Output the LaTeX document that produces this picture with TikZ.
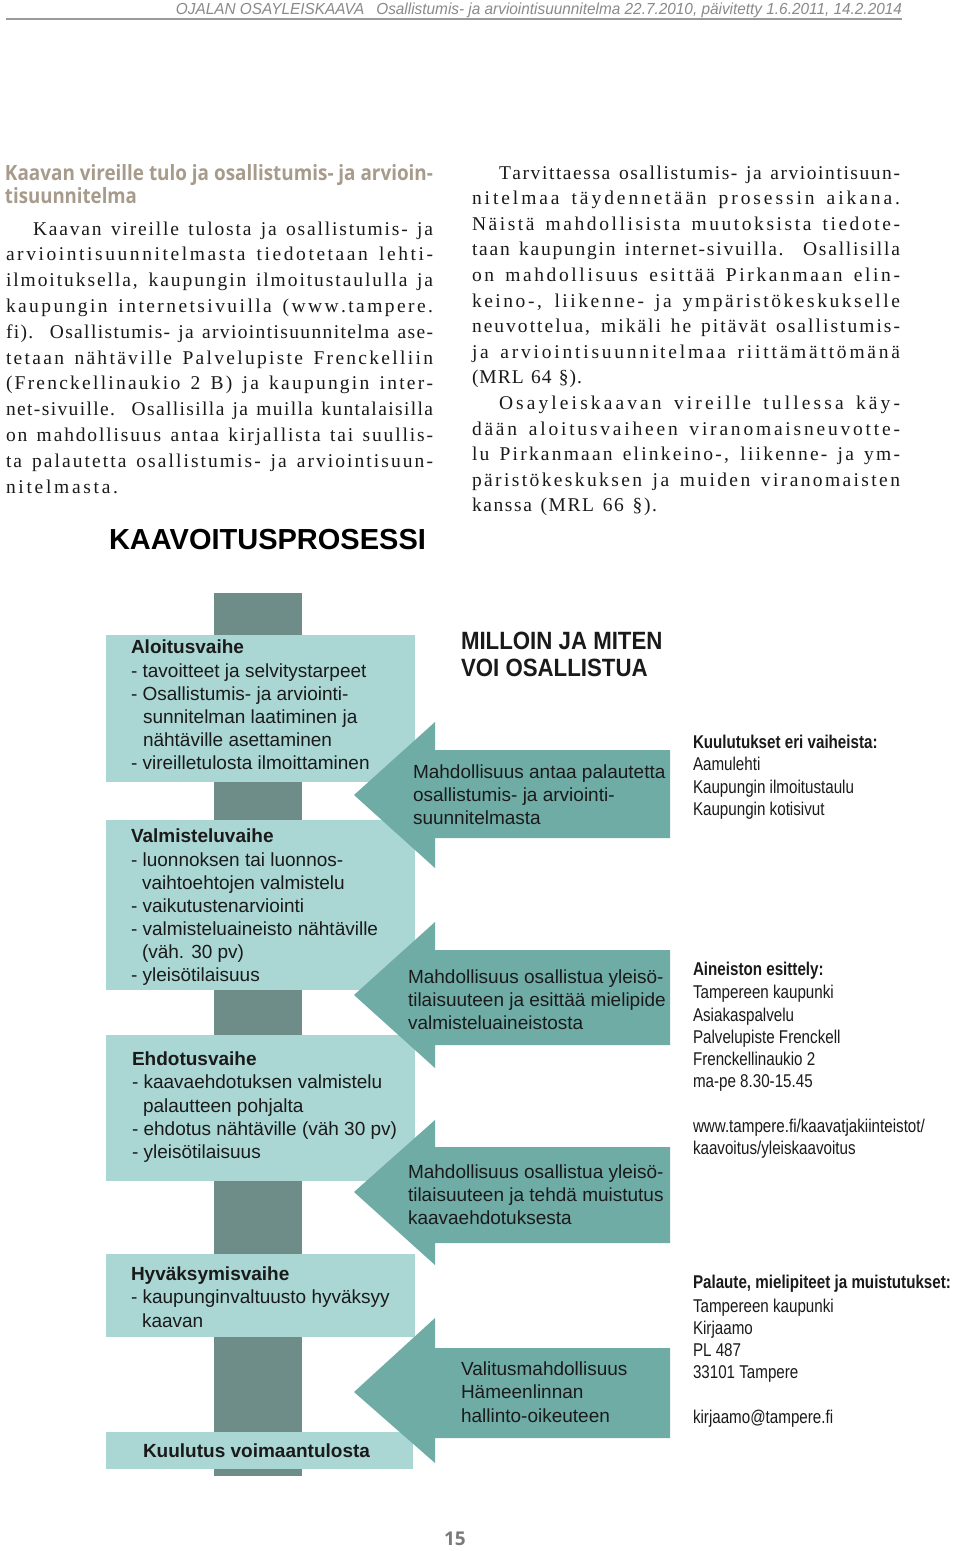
\documentclass[tikz,border=0pt]{standalone}
\usepackage{fontspec}
\setmainfont{Liberation Serif}
\newfontfamily\bodyfont{Liberation Serif}
\newfontfamily\arial{Liberation Sans}
\newfontfamily\arialnarrow[FakeStretch=0.82]{Liberation Sans}
\newfontfamily\hdrfont[FakeStretch=0.96]{Liberation Sans}
\newfontfamily\milfont[FakeStretch=0.89]{Liberation Sans}
\newfontfamily\opensans{Open Sans}
\definecolor{barc}{HTML}{6E8D89}
\definecolor{boxc}{HTML}{AAD6D4}
\definecolor{arrc}{HTML}{70ACA6}
\definecolor{tanc}{HTML}{A79B8B}
\definecolor{hdrc}{HTML}{8A8A8A}
\definecolor{rulec}{HTML}{9A9A9A}
\definecolor{ink}{HTML}{1A1A1A}
\definecolor{pagec}{HTML}{7A7A7A}
% letter spacing glue for body text
\makeatletter
\@tempcnta=`a \loop \XeTeXcharclass\@tempcnta=7 \ifnum\@tempcnta<`z \advance\@tempcnta 1 \repeat
\@tempcnta=`A \loop \XeTeXcharclass\@tempcnta=7 \ifnum\@tempcnta<`Z \advance\@tempcnta 1 \repeat
\@tempcnta=`0 \loop \XeTeXcharclass\@tempcnta=7 \ifnum\@tempcnta<`9 \advance\@tempcnta 1 \repeat
\makeatother
\XeTeXcharclass`ä=7 \XeTeXcharclass`ö=7 \XeTeXcharclass`Ä=7 \XeTeXcharclass`Ö=7
\XeTeXcharclass`.=7 \XeTeXcharclass`,=7 \XeTeXcharclass`-=7 \XeTeXcharclass`(=7
\XeTeXcharclass`)=7 \XeTeXcharclass`§=7
\XeTeXinterchartoks 7 7 = {\hskip 0pt plus 1pt\relax}
\newcommand\bodytext{\bodyfont\fontsize{19.5}{25}\selectfont\XeTeXinterchartokenstate=1 }
\newcommand\dtext{\arial\fontsize{19}{23}\selectfont}
\newcommand\dtextb{\arial\bfseries\fontsize{19}{23}\selectfont}
\newcommand\rtext{\arialnarrow\fontsize{18.5}{22}\selectfont}
\newcommand\rtextb{\arialnarrow\bfseries\fontsize{18.5}{22}\selectfont}
\newcommand\jl[5]{\node[body] (#1) at (#2,#3) {\makebox[#4pt][s]{#5}};}
\begin{document}
\begin{tikzpicture}[x=1pt,y=-1pt,
  every node/.style={inner sep=0pt, outer sep=0pt},
  ln/.style={anchor=base west},
  body/.style={ln, font=\bodytext, text=ink},
  dt/.style={ln, font=\dtext, text=ink},
  dtb/.style={ln, font=\dtextb, text=ink},
  rt/.style={ln, font=\rtext, text=ink},
  rtb/.style={ln, font=\rtextb, text=ink},
  boxs/.style={fill=boxc},
  arrs/.style={fill=arrc},
  bars/.style={fill=barc}]
\path[use as bounding box, fill=white] (0,0) rectangle (960,1551);

% header
\node[anchor=base east, font=\hdrfont\itshape\fontsize{16}{18}\selectfont, text=hdrc] (hdr) at (902,14)
  {OJALAN OSAYLEISKAAVA\hspace{12pt}Osallistumis- ja arviointisuunnitelma 22.7.2010, päivitetty 1.6.2011, 14.2.2014};
\draw[rulec, line width=1.5pt] (6,19) -- (902,19);

% section heading
\node[ln, text=tanc] (h1) at (5,180) {\resizebox{428pt}{16pt}{\opensans\bfseries Kaavan vireille tulo ja osallistumis- ja arvioin-}};
\node[ln, text=tanc] (h2) at (5,203) {\resizebox{132pt}{16pt}{\opensans\bfseries tisuunnitelma}};

% left column
\jl{L1}{33}{235}{400}{Kaavan vireille tulosta ja osallistumis- ja}
\jl{L2}{6}{260.8}{427}{arviointisuunnitelmasta tiedotetaan lehti-}
\jl{L3}{6}{286.6}{427}{ilmoituksella, kaupungin ilmoitustaululla ja}
\jl{L4}{6}{312.4}{427}{kaupungin internetsivuilla (www.tampere.}
\jl{L5}{6}{338.2}{427}{fi). Osallistumis- ja arviointisuunnitelma ase-}
\jl{L6}{6}{364}{427}{tetaan nähtäville Palvelupiste Frenckelliin}
\jl{L7}{6}{389.8}{427}{(Frenckellinaukio 2 B) ja kaupungin inter-}
\jl{L8}{6}{415.6}{427}{net-sivuille. Osallisilla ja muilla kuntalaisilla}
\jl{L9}{6}{441.4}{427}{on mahdollisuus antaa kirjallista tai suullis-}
\jl{L10}{6}{467.2}{427}{ta palautetta osallistumis- ja arviointisuun-}
\jl{L11}{6}{493}{112}{nitelmasta.}

% right column
\jl{R1}{499}{179}{401}{Tarvittaessa osallistumis- ja arviointisuun-}
\jl{R2}{472}{204.6}{428}{nitelmaa täydennetään prosessin aikana.}
\jl{R3}{472}{230.2}{428}{Näistä mahdollisista muutoksista tiedote-}
\jl{R4}{472}{255.8}{428}{taan kaupungin internet-sivuilla. Osallisilla}
\jl{R5}{472}{281.4}{428}{on mahdollisuus esittää Pirkanmaan elin-}
\jl{R6}{472}{307}{428}{keino-, liikenne- ja ympäristökeskukselle}
\jl{R7}{472}{332.6}{428}{neuvottelua, mikäli he pitävät osallistumis-}
\jl{R8}{472}{358.2}{428}{ja arviointisuunnitelmaa riittämättömänä}
\jl{R9}{472}{383.8}{110}{(MRL 64 §).}
\jl{R10}{499}{409.4}{401}{Osayleiskaavan vireille tullessa käy-}
\jl{R11}{472}{435}{428}{dään aloitusvaiheen viranomaisneuvotte-}
\jl{R12}{472}{460.6}{428}{lu Pirkanmaan elinkeino-, liikenne- ja ym-}
\jl{R13}{472}{486.2}{428}{päristökeskuksen ja muiden viranomaisten}
\jl{R14}{472}{511.8}{185}{kanssa (MRL 66 §).}

% diagram title
\node[ln, font=\arial\bfseries\fontsize{29}{31}\selectfont, text=black] (title) at (109,549) {KAAVOITUSPROSESSI};
\node[ln, font=\milfont\bfseries\fontsize{25}{27}\selectfont, text=ink] (mil1) at (461,649) {MILLOIN JA MITEN};
\node[ln, font=\milfont\bfseries\fontsize{25}{27}\selectfont, text=ink] (mil2) at (461,676) {VOI OSALLISTUA};

% vertical bar
\fill[bars] (214,593) rectangle (302,1476);
% phase boxes
\fill[boxs] (106,635) rectangle (415,782);
\fill[boxs] (106,820) rectangle (415,990);
\fill[boxs] (106,1035) rectangle (415,1181);
\fill[boxs] (106,1254) rectangle (415,1337);
\fill[boxs] (106,1432) rectangle (413,1469);
% arrows
\fill[arrs] (354,795) -- (435,722) -- (435,750) -- (670,750) -- (670,838) -- (435,838) -- (435,868) -- cycle;
\fill[arrs] (354,995) -- (435,922) -- (435,950) -- (670,950) -- (670,1045) -- (435,1045) -- (435,1068) -- cycle;
\fill[arrs] (354,1192) -- (435,1120) -- (435,1147) -- (670,1147) -- (670,1243) -- (435,1243) -- (435,1265) -- cycle;
\fill[arrs] (354,1392) -- (435,1318) -- (435,1348) -- (670,1348) -- (670,1438) -- (435,1438) -- (435,1463) -- cycle;

% box texts
\node[dtb] (b1t) at (131,653) {Aloitusvaihe};
\node[dt] (b1a) at (131,677) {- tavoitteet ja selvitystarpeet};
\node[dt] (b1b) at (131,700) {- Osallistumis- ja arviointi-};
\node[dt] (b1c) at (143,723) {sunnitelman laatiminen ja};
\node[dt] (b1d) at (143,746) {nähtäville asettaminen};
\node[dt] (b1e) at (131,769) {- vireilletulosta ilmoittaminen};

\node[dtb] (b2t) at (131,842) {Valmisteluvaihe};
\node[dt] (b2a) at (131,866) {- luonnoksen tai luonnos-};
\node[dt] (b2b) at (142,889) {vaihtoehtojen valmistelu};
\node[dt] (b2c) at (131,912) {- vaikutustenarviointi};
\node[dt] (b2d) at (131,935) {- valmisteluaineisto nähtäville};
\node[dt] (b2e) at (142,958) {(väh. 30 pv)};
\node[dt] (b2f) at (131,981) {- yleisötilaisuus};

\node[dtb] (b3t) at (132,1065) {Ehdotusvaihe};
\node[dt] (b3a) at (132,1088) {- kaavaehdotuksen valmistelu};
\node[dt] (b3b) at (143,1112) {palautteen pohjalta};
\node[dt] (b3c) at (132,1135) {- ehdotus nähtäville (väh 30 pv)};
\node[dt] (b3d) at (132,1158) {- yleisötilaisuus};

\node[dtb] (b4t) at (131,1280) {Hyväksymisvaihe};
\node[dt] (b4a) at (131,1303) {- kaupunginvaltuusto hyväksyy};
\node[dt] (b4b) at (142,1327) {kaavan};

\node[dtb] (b5t) at (143,1457) {Kuulutus voimaantulosta};

% arrow texts
\node[dt] (a1a) at (413,778) {Mahdollisuus antaa palautetta};
\node[dt] (a1b) at (413,801) {osallistumis- ja arviointi-};
\node[dt] (a1c) at (413,824) {suunnitelmasta};
\node[dt] (a2a) at (408,983) {Mahdollisuus osallistua yleisö-};
\node[dt] (a2b) at (408,1006) {tilaisuuteen ja esittää mielipide};
\node[dt] (a2c) at (408,1029) {valmisteluaineistosta};
\node[dt] (a3a) at (408,1178) {Mahdollisuus osallistua yleisö-};
\node[dt] (a3b) at (408,1201) {tilaisuuteen ja tehdä muistutus};
\node[dt] (a3c) at (408,1224) {kaavaehdotuksesta};
\node[dt] (a4a) at (461,1375) {Valitusmahdollisuus};
\node[dt] (a4b) at (461,1398) {Hämeenlinnan};
\node[dt] (a4c) at (461,1422) {hallinto-oikeuteen};

% right info column
\node[rtb] (i1t) at (693,748) {Kuulutukset eri vaiheista:};
\node[rt] (i1a) at (693,770) {Aamulehti};
\node[rt] (i1b) at (693,793) {Kaupungin ilmoitustaulu};
\node[rt] (i1c) at (693,815) {Kaupungin kotisivut};

\node[rtb] (i2t) at (693,975) {Aineiston esittely:};
\node[rt] (i2a) at (693,998) {Tampereen kaupunki};
\node[rt] (i2b) at (693,1021) {Asiakaspalvelu};
\node[rt] (i2c) at (693,1043) {Palvelupiste Frenckell};
\node[rt] (i2d) at (693,1065) {Frenckellinaukio 2};
\node[rt] (i2e) at (693,1087) {ma-pe 8.30-15.45};
\node[rt] (i2f) at (693,1132) {www.tampere.fi/kaavatjakiinteistot/};
\node[rt] (i2g) at (693,1154) {kaavoitus/yleiskaavoitus};

\node[rtb] (i3t) at (693,1288) {Palaute, mielipiteet ja muistutukset:};
\node[rt] (i3a) at (693,1312) {Tampereen kaupunki};
\node[rt] (i3b) at (693,1334) {Kirjaamo};
\node[rt] (i3c) at (693,1356) {PL 487};
\node[rt] (i3d) at (693,1378) {33101 Tampere};
\node[rt] (i3e) at (693,1423) {kirjaamo@tampere.fi};

% page number
\node[ln, font=\opensans\bfseries\fontsize{19}{21}\selectfont, text=pagec] (pg) at (444,1545) {15};
\end{tikzpicture}
\end{document}
